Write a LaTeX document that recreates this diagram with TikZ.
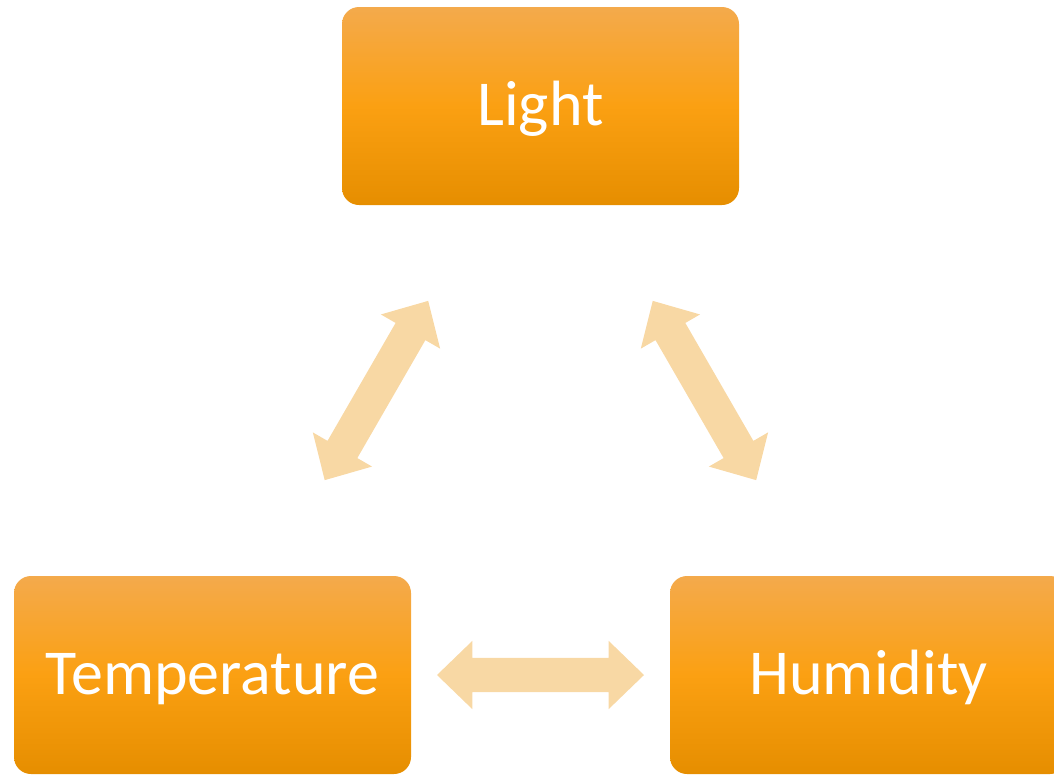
\documentclass[tikz,border=0pt]{standalone}
\usepackage{fontspec}
\setmainfont{Carlito}
\usetikzlibrary{shapes.arrows}
\definecolor{boxtop}{HTML}{F4AA4C}
\definecolor{boxmid}{HTML}{FBA012}
\definecolor{boxbottom}{HTML}{E68E00}
\definecolor{arrowfill}{HTML}{F8D8A4}

\begin{document}
\begin{tikzpicture}[x=1pt, y=-1pt,
    box/.style={rounded corners=17pt, minimum width=397pt, minimum height=198pt, inner sep=0pt,
      top color=boxtop, bottom color=boxbottom, middle color=boxmid, text=white,
      font=\fontsize{64}{70}\selectfont, text height=46pt, text depth=8pt},
    link/.style={double arrow, fill=arrowfill, minimum width=68pt, minimum height=207pt,
      inner xsep=0pt, inner ysep=17pt, double arrow head extend=17pt, double arrow tip angle=88, sloped}]
      \useasboundingbox (0,0) rectangle (1054,774);
      \clip (0,0) rectangle (1054,774);
      \node[box] (light) at (540.5,106) {Light};
      \node[box] (temp) at (212.5,675) {Temperature};
      \node[box] (humid) at (868.5,675) {Humidity};
      \path (temp) -- node[link] {} (light);
      \path (light) -- node[link] {} (humid);
      \path (temp) -- node[link] {} (humid);
    \end{tikzpicture}
\end{document}
